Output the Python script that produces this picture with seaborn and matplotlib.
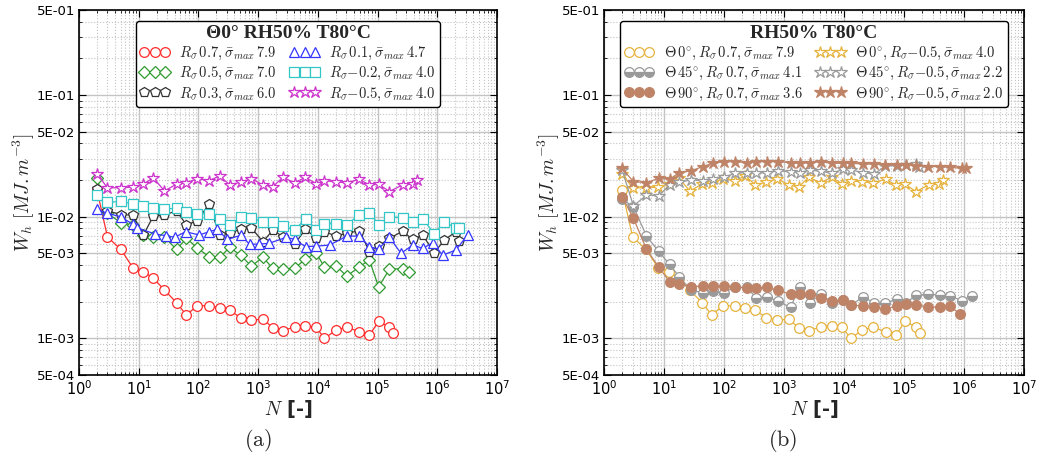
import numpy as np
import matplotlib
matplotlib.use('Agg')
import matplotlib.pyplot as plt
import matplotlib.ticker as mticker
from matplotlib.lines import Line2D
import seaborn as sns

# Panel (a): Theta 0 deg, RH50% T80C
n_r07 = [2, 3, 5, 8, 12, 17.5, 27, 43, 63, 95, 150, 227, 334, 510, 770, 1200, 1770, 2600, 4070, 6200,
         9400, 12900, 20200, 30500, 49700, 73000, 104000, 158000, 183000]
w_r07 = [0.0166, 0.0068, 0.0054, 0.0038, 0.00353, 0.00314, 0.00249, 0.00197, 0.00155, 0.00186,
         0.00185, 0.00179, 0.0017, 0.00148, 0.00141, 0.00144, 0.00122, 0.00116, 0.00124, 0.00127,
         0.00123, 0.00100, 0.00117, 0.00124, 0.00113, 0.00106, 0.00138, 0.00124, 0.0011]

n_r05 = [2, 3, 5, 8, 12, 17.5, 27, 43, 63, 95, 150, 227, 334, 510, 770, 1200, 1770, 2600, 4070, 6200,
         9400, 12900, 20200, 30500, 49700, 73000, 104000, 158000, 263000, 333000]
w_r05 = [0.0207, 0.01065, 0.00893, 0.00854, 0.00707, 0.00685, 0.00677, 0.00539, 0.00664, 0.00556,
         0.00469, 0.00463, 0.0056, 0.00481, 0.00393, 0.00463, 0.00376, 0.00369, 0.00376, 0.00449,
         0.00506, 0.00383, 0.00393, 0.00325, 0.00388, 0.0044, 0.00265, 0.0037, 0.00375, 0.00353]

n_r03 = [2, 3, 5, 8, 12, 17.5, 27, 43, 63, 95, 150, 227, 334, 510, 770, 1200, 1770, 2600, 4070, 6200,
         9400, 12900, 20200, 30500, 49700, 73000, 104000, 158000, 263000, 387000, 569000, 891000,
         1310000, 2050000, 2330000]
w_r03 = [0.0168, 0.0112, 0.0104, 0.0103, 0.00707, 0.0101, 0.0103, 0.0112, 0.00854, 0.00927,
         0.01265, 0.00707, 0.00738, 0.00787, 0.00811, 0.00623, 0.00777, 0.00685, 0.00592, 0.00792,
         0.00664, 0.00753, 0.00693, 0.0073, 0.00767, 0.00516, 0.00574, 0.00664, 0.0076, 0.0065,
         0.00707, 0.00505, 0.00643, 0.00753, 0.00635]

n_r01 = [2, 3, 5, 8, 9.3, 19, 29, 40, 61, 103, 151, 205, 305, 510, 720, 1030, 1520, 2960, 4070, 6220,
         9380, 15700, 30500, 49700, 73100, 104000, 158000, 247000, 387000, 569000, 836000, 1230000,
         2050000, 3210000]
w_r01 = [0.0115, 0.01065, 0.01, 0.00865, 0.00811, 0.0072, 0.00698, 0.00677, 0.00753, 0.00707,
         0.00753, 0.00787, 0.00651, 0.00703, 0.00595, 0.00595, 0.00604, 0.00677, 0.00651, 0.00567,
         0.00573, 0.00585, 0.00693, 0.00693, 0.00567, 0.00542, 0.00677, 0.005, 0.00585, 0.00549,
         0.00611, 0.00483, 0.00532, 0.00707]

n_rm02 = [2, 3, 5, 8, 12, 17.5, 27, 43, 63, 95, 151, 227, 334, 510, 770, 1205, 1770, 2600, 4070, 6220,
          9380, 12900, 20200, 30500, 49700, 73100, 104000, 158000, 263000, 387000, 569000, 891000,
          1310000, 2050000, 2330000]
w_rm02 = [0.015, 0.0131, 0.01337, 0.0127, 0.01224, 0.01186, 0.01149, 0.0118, 0.011, 0.01052,
          0.01052, 0.00963, 0.0086, 0.00987, 0.00975, 0.00904, 0.0091, 0.0084, 0.00777, 0.00963,
          0.00772, 0.00875, 0.00875, 0.0086, 0.01038, 0.0108, 0.0086, 0.01, 0.0098, 0.0091,
          0.00963, 0.00725, 0.0091, 0.00807, 0.00807]

n_rm05 = [2, 3, 5, 8, 12, 17.5, 27, 43, 63, 95, 150, 227, 334, 510, 770, 1200, 1770, 2600, 4070, 6200,
          9400, 12900, 20200, 30500, 49700, 73000, 104000, 158000, 263000, 387000, 452000]
w_rm05 = [0.0224, 0.0173, 0.0173, 0.0175, 0.0185, 0.0209, 0.0163, 0.0185, 0.019, 0.0205,
          0.0198, 0.0216, 0.0183, 0.0192, 0.0206, 0.0182, 0.0177, 0.0211, 0.019, 0.0211,
          0.0186, 0.0198, 0.0193, 0.019, 0.0203, 0.0182, 0.0185, 0.0161, 0.0183, 0.0185, 0.02]

# Panel (b): orientation 45 / 90 deg (Theta 0 series are the same tests as in (a))
n_t45_r07 = [2, 3.1, 5.1, 8.1, 12.4, 17.9, 28, 44, 65, 99, 153, 239, 343, 523, 789, 1285, 1815, 2670,
             4180, 6300, 9620, 13300, 20800, 31700, 49100, 75000, 107000, 158000, 254000, 397000,
             583000, 914000, 1340000]
w_t45_r07 = [0.0139, 0.0121, 0.00694, 0.00521, 0.00405, 0.00321, 0.00249, 0.00238, 0.00244, 0.00237,
             0.00265, 0.00262, 0.00216, 0.0022, 0.00202, 0.0018, 0.00265, 0.00197, 0.00231, 0.00196,
             0.00206, 0.00188, 0.0022, 0.00196, 0.00194, 0.00211, 0.00194, 0.00227, 0.00231, 0.00227,
             0.00224, 0.00204, 0.00224]

n_t90_r07 = [2, 3.1, 5.1, 8.1, 12.4, 17.9, 28, 44, 65, 99, 153, 239, 343, 523, 789, 1285, 1815, 2670,
             4180, 6300, 9620, 13300, 20800, 31700, 49100, 75000, 107000, 158000, 254000, 397000,
             583000, 857000]
w_t90_r07 = [0.0146, 0.00969, 0.0054, 0.00388, 0.00292, 0.00279, 0.00265, 0.0027, 0.00269, 0.0027,
             0.00262, 0.0026, 0.0026, 0.00262, 0.00249, 0.0023, 0.0023, 0.0023, 0.00216, 0.00202,
             0.00206, 0.00188, 0.00184, 0.0018, 0.00173, 0.00185, 0.00191, 0.00188, 0.00182, 0.0018,
             0.00185, 0.00158]

n_t45_rm05 = [2, 3.1, 5.1, 8.1, 12.4, 17.9, 28, 44, 65, 99, 153, 239, 343, 523, 789, 1285, 1815, 2670,
              4180, 6300, 9620, 13300, 20800, 31700, 49100, 75000, 107000, 158000, 178000]
w_t45_rm05 = [0.0242, 0.01224, 0.01507, 0.0148, 0.01823, 0.0192, 0.02005, 0.01977, 0.0203, 0.0211,
              0.02275, 0.02304, 0.02275, 0.02304, 0.02392, 0.02333, 0.02304, 0.0242, 0.0236, 0.02275,
              0.02453, 0.0242, 0.02304, 0.0224, 0.02613, 0.0263, 0.0266, 0.0271, 0.0254]

n_t90_rm05 = [2, 3.1, 5.1, 8.1, 12.4, 17.9, 28, 44, 65, 99, 153, 239, 343, 523, 789, 1285, 1815, 2670,
              4180, 6300, 9620, 13300, 20800, 31700, 49100, 75000, 107000, 158000, 254000, 397000,
              583000, 914000, 1070000]
w_t90_rm05 = [0.025, 0.0194, 0.01904, 0.02066, 0.0203, 0.02304, 0.02376, 0.02582, 0.02748, 0.02837,
              0.02837, 0.0278, 0.02837, 0.02837, 0.02837, 0.0278, 0.02748, 0.0278, 0.02837, 0.02748,
              0.02748, 0.02748, 0.0271, 0.0271, 0.0266, 0.0266, 0.0266, 0.02613, 0.02582, 0.02582,
              0.02546, 0.025, 0.025]

ytick_vals = [5e-4, 1e-3, 5e-3, 1e-2, 5e-2, 1e-1, 5e-1]
ytick_labels = ['5E-04', '1E-03', '5E-03', '1E-02', '5E-02', '1E-01', '5E-01']

sns.set_style('whitegrid')
plt.rcParams['font.family'] = ['DejaVu Sans']
plt.rcParams['mathtext.fontset'] = 'cm'


def draw(ax, n, w, color, marker, label, ms=7, face='white', **kw):
    sns.lineplot(x=n, y=w, ax=ax, color=color, lw=0.9, marker=marker, markersize=ms,
                 mfc=face, mec=color, mew=0.9, label=label, estimator=None, **kw)


def style_axis(ax):
    ax.set_xscale('log')
    ax.set_yscale('log')
    ax.set_xlim(1, 1e7)
    ax.set_ylim(5e-4, 5e-1)
    ax.xaxis.set_major_locator(mticker.LogLocator(base=10, numticks=10))
    ax.xaxis.set_minor_locator(mticker.LogLocator(base=10, subs=np.arange(2, 10), numticks=20))
    ax.xaxis.set_major_formatter(mticker.FuncFormatter(
        lambda v, p: r'$\mathregular{10^{%d}}$' % round(np.log10(v))))
    ax.yaxis.set_major_locator(mticker.FixedLocator(ytick_vals))
    ax.yaxis.set_major_formatter(mticker.FixedFormatter(ytick_labels))
    ax.yaxis.set_minor_locator(mticker.LogLocator(base=10, subs=np.arange(2, 10), numticks=20))
    ax.yaxis.set_minor_formatter(mticker.NullFormatter())
    ax.grid(which='major', color='#c4c4c4', lw=1.0, ls='-')
    ax.grid(which='minor', color='#c4c4c4', lw=0.8, ls=':')
    ax.tick_params(which='both', direction='in', top=True, right=True, bottom=True, left=True,
                   labelsize=9.5, colors='black')
    ax.tick_params(axis='x', labelsize=10.5)
    ax.tick_params(which='major', length=5, width=0.8, pad=3)
    ax.tick_params(which='minor', length=2.5, width=0.6)
    for s in ax.spines.values():
        s.set_color('black')
        s.set_linewidth(1.2)
    ax.set_xlabel(r'$N$ [-]', fontsize=14, fontweight='bold', labelpad=0)
    ax.set_ylabel(r'$W_h\ [MJ.m^{-3}]$', fontsize=14)
    ax.yaxis.set_label_coords(-0.1, 0.5)


fig = plt.figure(figsize=(10.38, 4.70), dpi=100)
ax1 = fig.add_axes([79 / 1038, 1 - 375 / 470, 418 / 1038, 365 / 470])
ax2 = fig.add_axes([604 / 1038, 1 - 375 / 470, 420 / 1038, 365 / 470])

style_axis(ax1)
style_axis(ax2)

# panel (a)
draw(ax1, n_r07, w_r07, '#ff2b2b', 'o', r'$R_\sigma\,0.7, \bar{\sigma}_{max}\,7.9$')
draw(ax1, n_r05, w_r05, '#2f9a2f', 'D', r'$R_\sigma\,0.5, \bar{\sigma}_{max}\,7.0$', ms=6)
draw(ax1, n_r03, w_r03, '#333333', 'p', r'$R_\sigma\,0.3, \bar{\sigma}_{max}\,6.0$')
draw(ax1, n_r01, w_r01, '#3535ff', '^', r'$R_\sigma\,0.1, \bar{\sigma}_{max}\,4.7$')
draw(ax1, n_rm02, w_rm02, '#33c6c6', 's', r'$R_\sigma{-0.2}, \bar{\sigma}_{max}\,4.0$')
draw(ax1, n_rm05, w_rm05, '#cc33cc', '*', r'$R_\sigma{-0.5}, \bar{\sigma}_{max}\,4.0$', ms=9)

# panel (b)
gold, grey, brown = '#e6b33e', '#9a9a9a', '#bf8468'
draw(ax2, n_r07, w_r07, gold, 'o', r'$\Theta\,0^{\circ}, R_\sigma\,0.7, \bar{\sigma}_{max}\,7.9$')
draw(ax2, n_t45_r07, w_t45_r07, grey, 'o',
     r'$\Theta\,45^{\circ}, R_\sigma\,0.7, \bar{\sigma}_{max}\,4.1$',
     face=grey, fillstyle='bottom', markerfacecoloralt='white')
draw(ax2, n_t90_r07, w_t90_r07, brown, 'o',
     r'$\Theta\,90^{\circ}, R_\sigma\,0.7, \bar{\sigma}_{max}\,3.6$', face=brown)
draw(ax2, n_rm05, w_rm05, gold, '*', r'$\Theta\,0^{\circ}, R_\sigma{-0.5}, \bar{\sigma}_{max}\,4.0$',
     ms=9)
draw(ax2, n_t45_rm05, w_t45_rm05, grey, '*',
     r'$\Theta\,45^{\circ}, R_\sigma{-0.5}, \bar{\sigma}_{max}\,2.2$', ms=9)
draw(ax2, n_t90_rm05, w_t90_rm05, brown, '*',
     r'$\Theta\,90^{\circ}, R_\sigma{-0.5}, \bar{\sigma}_{max}\,2.0$', ms=9, face=brown)

titles = ['Θ0° RH50% T80°C', 'RH50% T80°C']
for ax, title in zip([ax1, ax2], titles):
    h, l = ax.get_legend_handles_labels()
    # marker-only proxies for the legend
    proxies = [Line2D([], [], ls='none', marker=x.get_marker(), ms=x.get_markersize(),
                      mfc=x.get_markerfacecolor(), mec=x.get_markeredgecolor(),
                      mew=x.get_markeredgewidth(), fillstyle=x.get_fillstyle(),
                      markerfacecoloralt=x.get_markerfacecoloralt()) for x in h]
    leg = ax.legend(proxies, l, ncol=2, loc='upper center', bbox_to_anchor=(0.5, 0.99), numpoints=3,
                    handlelength=2.0, handletextpad=0.7, columnspacing=0.9, labelspacing=0.2,
                    borderpad=0.3, fontsize=10.5, title=title,
                    title_fontproperties={'family': 'Liberation Serif', 'weight': 'bold', 'size': 14},
                    frameon=True, fancybox=True, framealpha=1.0)
    leg.get_frame().set_edgecolor('black')
    leg.get_frame().set_linewidth(1.0)

fig.text(258 / 1038, 1 - 440 / 470, r'$\mathrm{(a)}$', fontsize=16, ha='center', va='center')
fig.text(783 / 1038, 1 - 440 / 470, r'$\mathrm{(b)}$', fontsize=16, ha='center', va='center')

fig.savefig('out.png', dpi=100)
